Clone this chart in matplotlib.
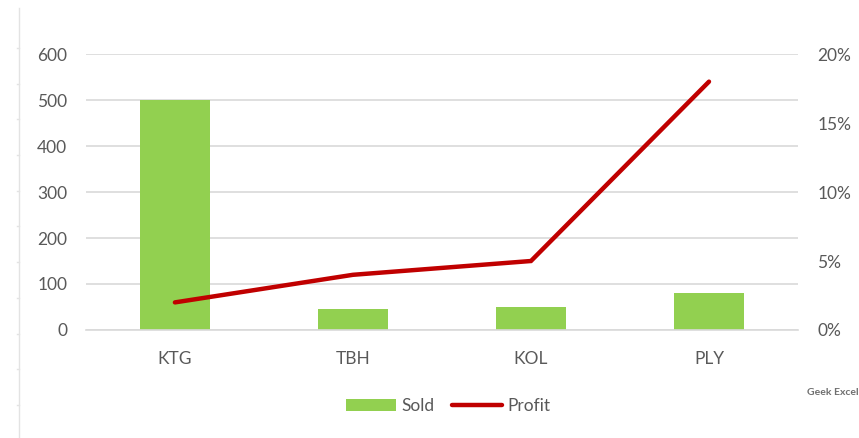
import numpy as np
import matplotlib.pyplot as plt
from matplotlib.lines import Line2D
from matplotlib.patches import Patch
from matplotlib.ticker import FuncFormatter

# data
categories = ["KTG", "TBH", "KOL", "PLY"]
sold = [500, 45, 50, 80]
profit = [0.02, 0.04, 0.05, 0.18]

left_ticks = [0, 100, 200, 300, 400, 500, 600]
right_ticks = [0, 0.05, 0.10, 0.15, 0.20]

GREEN = "#92D050"
RED = "#C00000"
TEXT = "#595959"
GRID = "#D9D9D9"

plt.rcParams["font.family"] = ["Lato", "DejaVu Sans"]

fig = plt.figure(figsize=(8.59, 4.38), dpi=100)
ax = fig.add_axes([0.100, 0.2466, 0.829, 0.630])
ax2 = ax.twinx()

x = np.arange(len(categories))
ax.bar(x, sold, width=0.39, color=GREEN, zorder=2)
ax.set_xlim(-0.5, len(categories) - 0.5)
ax.set_ylim(0, 600)
ax.set_yticks(left_ticks)
ax.yaxis.grid(True, color=GRID, linewidth=1.2, zorder=0)
ax.set_axisbelow(True)
ax.set_xticks(x)
ax.set_xticklabels(categories)

ax2.plot(x, profit, color=RED, linewidth=3.2, solid_capstyle="round",
         solid_joinstyle="miter", zorder=3)
ax2.set_ylim(0, 0.20)
ax2.set_yticks(right_ticks)
ax2.yaxis.set_major_formatter(FuncFormatter(lambda v, p: f"{v*100:.0f}%"))

for a in (ax, ax2):
    for s in a.spines.values():
        s.set_visible(False)
    a.tick_params(length=0, colors=TEXT, labelsize=12.5)
ax.tick_params(axis="y", pad=13.5)
ax.tick_params(axis="x", pad=15)
ax2.tick_params(axis="y", pad=14)
ax.spines["bottom"].set_visible(True)
ax.spines["bottom"].set_color(GRID)
ax.spines["bottom"].set_linewidth(1.2)

# legend
handles = [Patch(facecolor=GREEN, edgecolor="none"),
           Line2D([0], [0], color=RED, linewidth=3.2, solid_capstyle="round")]
fig.legend(handles, ["Sold", "Profit"], loc="center", bbox_to_anchor=(0.522, 0.073),
           ncol=2, frameon=False, fontsize=12.5, labelcolor=TEXT,
           handlelength=2.9, handletextpad=0.3, columnspacing=1.0)

# watermark
fig.text(0.999, 0.105, "Geek Excel", ha="right", va="center", fontsize=7.5,
         color="#6f6f6f", fontweight="bold")

# stray sheet border on the left
fig.add_artist(Line2D([19 / 859, 19 / 859], [0, 1 - 8 / 438], color="#E3E3E3", linewidth=1))
for ty in np.arange(48, 438, 35.7):
    fig.add_artist(Line2D([16.5 / 859, 19 / 859], [1 - ty / 438] * 2, color="#E3E3E3", linewidth=1))

fig.savefig("out.png", dpi=100)
